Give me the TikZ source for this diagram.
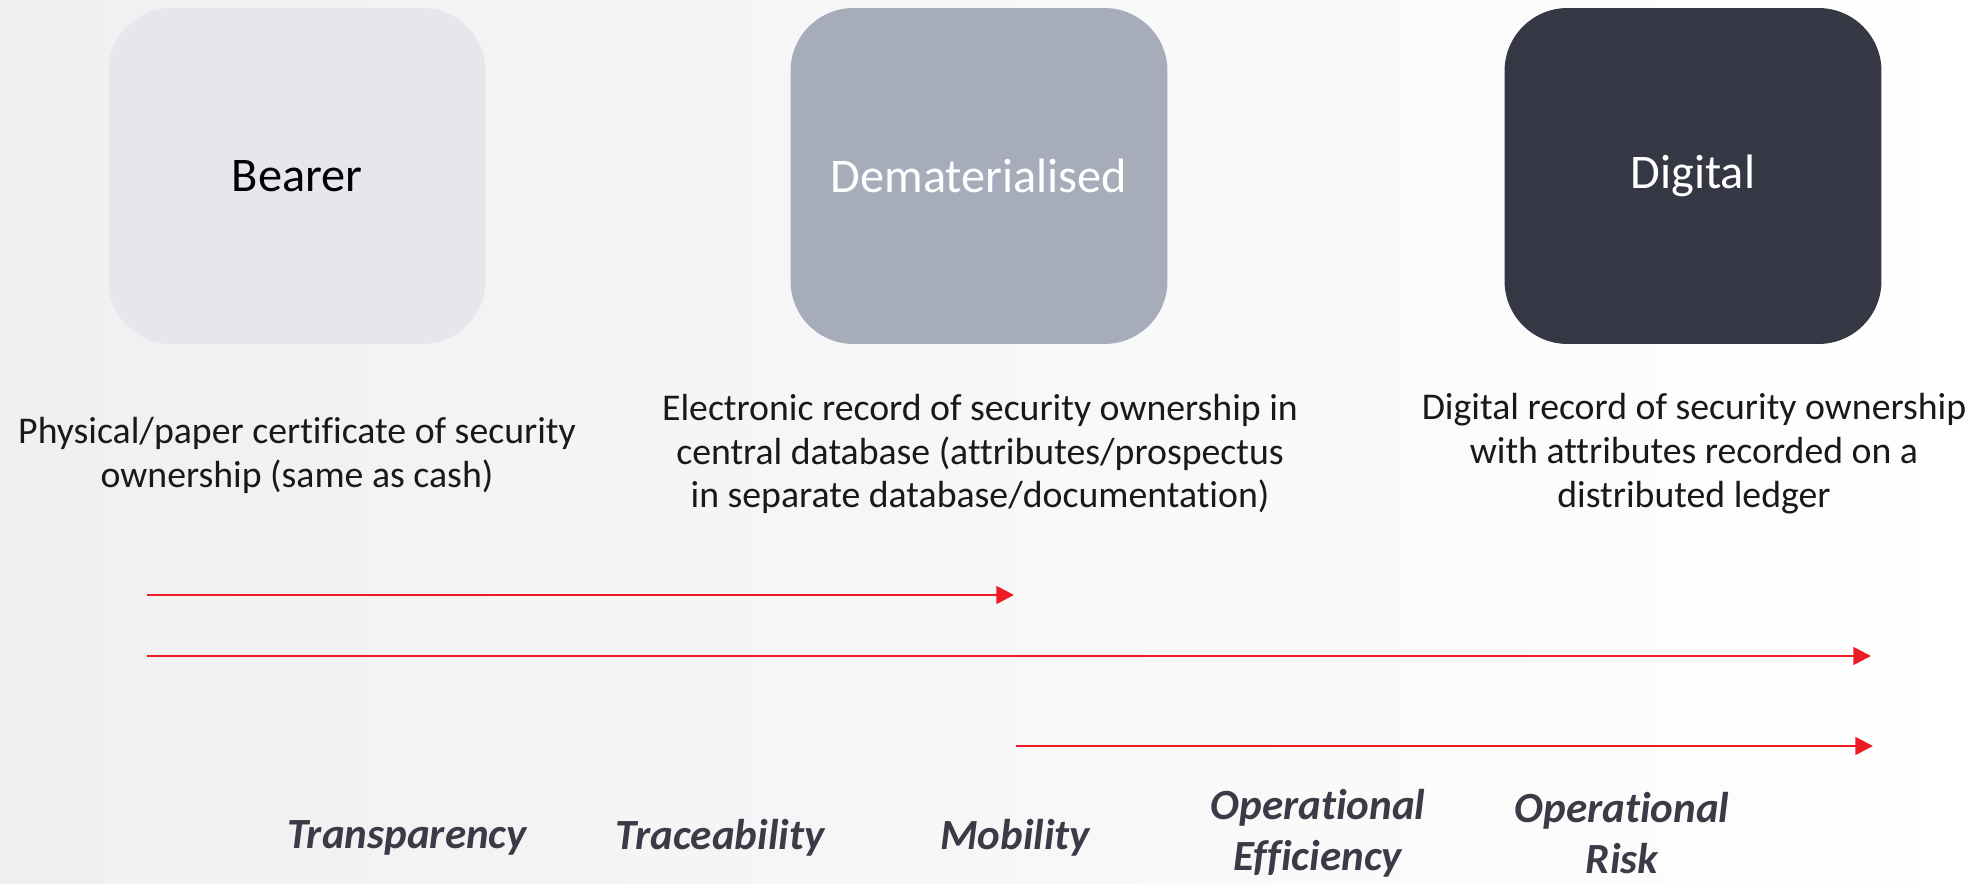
\documentclass[tikz,border=0pt]{standalone}
\usepackage{fontspec}
\setmainfont{Carlito}[Ligatures=NoCommon]
\usepackage{xcolor}
\usetikzlibrary{arrows.meta}

\definecolor{bearerfill}{HTML}{E6E7EC}
\definecolor{dematfill}{HTML}{A7ACBA}
\definecolor{digitalfill}{HTML}{363744}
\definecolor{timered}{HTML}{ED1C24}
\definecolor{benefitink}{HTML}{3A3B47}

\tikzset{
    stagebox/.style={rounded corners=1.26cm, minimum width=7.54cm, minimum height=6.72cm,
        inner sep=0pt, font=\fontsize{27.5}{32}\selectfont},
    stagetext/.style={align=center, text=black!90, font=\fontsize{21.5}{25}\selectfont},
    benefit/.style={align=center, text=benefitink, font=\fontsize{24.5}{29}\selectfont\bfseries\itshape},
    timeline/.style={timered, line width=1.5pt, -{Triangle[length=10pt, width=10pt]}}
}

\begin{document}
\begin{tikzpicture}[x=0.02cm, y=-0.02cm]
    % page background, greyish on the left
    \shade[left color=black!6, right color=white] (0,0) rectangle (1982,884);
    \useasboundingbox (0,0) rectangle (1982,884);

    % the three stages
    \foreach \x/\name/\fc/\tc/\txt in {297/bearer/bearerfill/black/Bearer,
                                       979/demat/dematfill/white/Dematerialised,
                                       1693/digital/digitalfill/white/Digital} {
            \node[stagebox, fill=\fc, text=\tc] (\name) at (\x,176) {\txt};
        }

    \node[stagetext] (bearertxt) at (297,455) {Physical/paper certificate of security\\ownership (same as cash)};
    \node[stagetext] (demattxt) at (980,454) {Electronic record of security ownership in\\central database (attributes/prospectus\\in separate database/documentation)};
    \node[stagetext] (digitaltxt) at (1694,454) {Digital record of security ownership\\with attributes recorded on a\\distributed ledger};

    % arrows
    \coordinate (first start) at (147,595);
    \coordinate (first end) at (1014,595);
    \coordinate (second start) at (147,656);
    \coordinate (second end) at (1871,656);
    \coordinate (third start) at (1016,746);
    \coordinate (third end) at (1873,746);
    \draw[timeline] (first start) -- (first end);
    \draw[timeline] (second start) -- (second end);
    \draw[timeline] (third start) -- (third end);

    % benefits along the bottom
    \node[benefit] (transp) at (407,838) {Transparency};
    \node[benefit] (trace) at (720,838) {Traceability};
    \node[benefit] (mobil) at (1015,838) {Mobility};
    \node[benefit] (opeff) at (1318,833) {Operational\\Efficiency};
    \node[benefit] (oprisk) at (1622,833) {Operational\\Risk};
\end{tikzpicture}
\end{document}
